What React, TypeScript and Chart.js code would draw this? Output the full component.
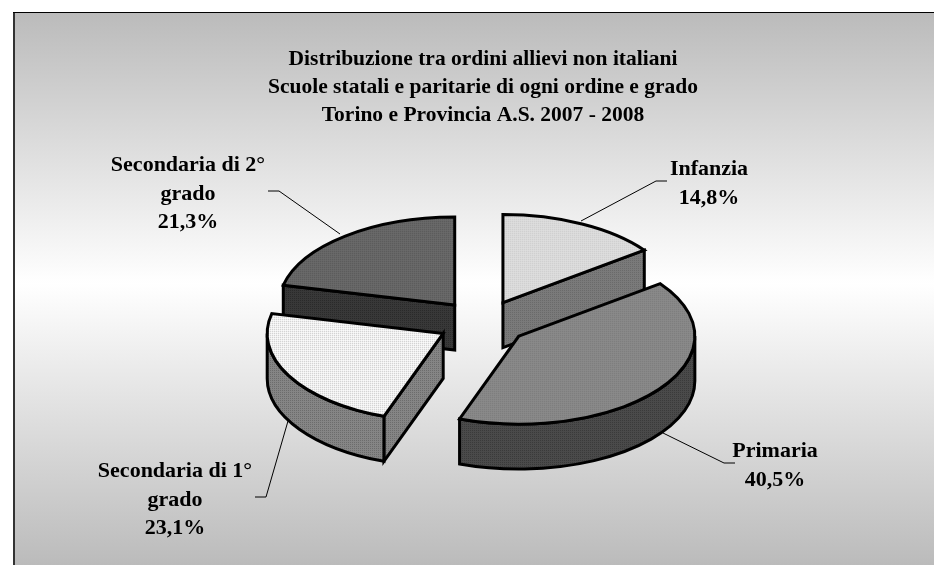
import React, { useEffect, useRef } from "react";
import { Chart, registerables } from "chart.js";

Chart.register(...registerables);

const categories = ["Infanzia", "Primaria", "Secondaria di 1° grado", "Secondaria di 2° grado"];
const shares = [14.8, 40.5, 23.1, 21.3];
const titleLines = [
  "Distribuzione tra ordini allievi non italiani",
  "Scuole statali e paritarie di ogni ordine e grado",
  "Torino e Provincia A.S. 2007 - 2008",
];
const labelLines = [["Infanzia"], ["Primaria"], ["Secondaria di 1°", "grado"], ["Secondaria di 2°", "grado"]];

// layout and styling, kept apart from the values
const WIDTH = 934;
const HEIGHT = 565;
const CENTER_X = 482.7;
const CENTER_Y = 322.7;
const RADIUS = 176;
const EXPLODE = 45;
const TILT = 0.5;
const DEPTH = 45;
const STROKE = 3;
const topStyles = [
  ["#e0e0e0", "#c4c4c4"],
  ["#8c8c8c", "#747474"],
  ["#ffffff", "#b4b4b4"],
  ["#6c6c6c", "#505050"],
];
const wallStyles = [
  ["#7a7a7a", "#6a6a6a"],
  ["#4a4a4a", "#3a3a3a"],
  ["#858585", "#6c6c6c"],
  ["#383838", "#2a2a2a"],
];
const labelLayout = [
  { x: 709, y: 175, line: [[581, 221], [656, 181], [667, 181]] },
  { x: 775, y: 457, line: [[663, 433], [724, 463], [735, 463]] },
  { x: 175, y: 477, line: [[288, 421], [266, 497], [255, 497]] },
  { x: 188, y: 171, line: [[340, 234], [279, 191], [268, 191]] },
];
const LABEL_LINE_HEIGHT = 28.5;

function makePattern(colors: string[], stretchY: number) {
  const tile = document.createElement("canvas");
  tile.width = 4;
  tile.height = 4;
  const c = tile.getContext("2d")!;
  c.fillStyle = colors[0];
  c.fillRect(0, 0, 4, 4);
  c.fillStyle = colors[1];
  c.fillRect(0, 0, 1, 1);
  c.fillRect(2, 2, 1, 1);
  c.fillRect(2, 0, 1, 1);
  c.fillRect(0, 2, 1, 1);
  const p = c.createPattern(tile, "repeat")!;
  p.setTransform(new DOMMatrix([1, 0, 0, stretchY, 0, 0]));
  return p;
}

const pie3d = {
  id: "pie3d",
  beforeDraw(chart: any) {
    const { ctx } = chart;
    const g = ctx.createLinearGradient(0, 13, 0, HEIGHT);
    g.addColorStop(0, "#bbbbbb");
    g.addColorStop(0.49, "#ffffff");
    g.addColorStop(1, "#bbbbbb");
    ctx.save();
    ctx.fillStyle = "#ffffff";
    ctx.fillRect(0, 0, WIDTH, HEIGHT);
    ctx.fillStyle = g;
    ctx.fillRect(14, 13, WIDTH - 14, HEIGHT - 13);
    ctx.fillStyle = "#333333";
    ctx.fillRect(13, 12, 2, HEIGHT - 12);
    ctx.fillStyle = "#000000";
    ctx.fillRect(13, 12, WIDTH - 13, 1);
    ctx.restore();
  },
  afterDatasetsUpdate(chart: any) {
    // explode each slice by moving its arc element along the bisector
    chart.getDatasetMeta(0).data.forEach((el: any) => {
      const mid = (el.startAngle + el.endAngle) / 2;
      el.x += Math.cos(mid) * EXPLODE;
      el.y += Math.sin(mid) * EXPLODE;
    });
  },
  beforeDatasetDraw(chart: any) {
    const { ctx, chartArea } = chart;
    const cx = (chartArea.left + chartArea.right) / 2;
    const cy = (chartArea.top + chartArea.bottom) / 2;
    const dx = CENTER_X - cx;
    const dy = CENTER_Y - cy * TILT;
    const wallFills = wallStyles.map((s) => makePattern(s, 1));
    const slices = chart.getDatasetMeta(0).data.map((el: any, i: number) => ({
      i,
      a: el.startAngle,
      b: el.endAngle,
      r: el.outerRadius,
      sx: el.x + dx,
      sy: el.y * TILT + dy,
    }));
    chart.$slices = slices;
    ctx.save();
    ctx.lineWidth = STROKE;
    ctx.lineJoin = "miter";
    ctx.strokeStyle = "#000000";
    [...slices].sort((p: any, q: any) => p.sy - q.sy).forEach((s: any) => {
      ctx.fillStyle = wallFills[s.i];
      const quad = (t: number) => {
        const px = s.sx + Math.cos(t) * s.r;
        const py = s.sy + Math.sin(t) * s.r * TILT;
        ctx.beginPath();
        ctx.moveTo(s.sx, s.sy);
        ctx.lineTo(px, py);
        ctx.lineTo(px, py + DEPTH);
        ctx.lineTo(s.sx, s.sy + DEPTH);
        ctx.closePath();
        ctx.fill();
        ctx.stroke();
      };
      if (Math.cos(s.a) < -1e-3) quad(s.a);
      if (Math.cos(s.b) > 1e-3) quad(s.b);
      for (const k of [0, 2 * Math.PI]) {
        const from = Math.max(s.a, k);
        const to = Math.min(s.b, k + Math.PI);
        if (to > from) {
          ctx.beginPath();
          ctx.ellipse(s.sx, s.sy, s.r, s.r * TILT, 0, from, to);
          ctx.ellipse(s.sx, s.sy + DEPTH, s.r, s.r * TILT, 0, to, from, true);
          ctx.closePath();
          ctx.fill();
          ctx.stroke();
        }
      }
    });
    ctx.restore();
    ctx.save();
    ctx.translate(dx, dy);
    ctx.scale(1, TILT);
  },
  afterDatasetDraw(chart: any) {
    const { ctx } = chart;
    ctx.restore();
    ctx.save();
    ctx.lineWidth = STROKE;
    ctx.lineJoin = "miter";
    ctx.strokeStyle = "#000000";
    chart.$slices.forEach((s: any) => {
      ctx.beginPath();
      ctx.moveTo(s.sx, s.sy);
      ctx.ellipse(s.sx, s.sy, s.r, s.r * TILT, 0, s.a, s.b);
      ctx.closePath();
      ctx.stroke();
    });
    ctx.restore();
  },
  afterDraw(chart: any) {
    const { ctx } = chart;
    ctx.save();
    ctx.strokeStyle = "#000000";
    ctx.lineWidth = 1;
    ctx.fillStyle = "#000000";
    ctx.font = 'bold 22px "Liberation Serif"';
    ctx.textAlign = "center";
    ctx.textBaseline = "alphabetic";
    labelLayout.forEach((l, i) => {
      ctx.beginPath();
      l.line.forEach(([x, y], j) => (j ? ctx.lineTo(x, y) : ctx.moveTo(x, y)));
      ctx.stroke();
      const lines = [...labelLines[i], shares[i].toFixed(1).replace(".", ",") + "%"];
      lines.forEach((t, j) => ctx.fillText(t, l.x, l.y + j * LABEL_LINE_HEIGHT));
    });
    ctx.restore();
  },
};

export default function App() {
  const ref = useRef<HTMLCanvasElement>(null);
  useEffect(() => {
    const chart = new Chart(ref.current!, {
      type: "pie",
      data: {
        labels: categories,
        datasets: [
          {
            data: shares,
            backgroundColor: topStyles.map((s) => makePattern(s, 1 / TILT)),
            borderWidth: 0,
            radius: RADIUS,
            clip: false,
          } as any,
        ],
      },
      options: {
        animation: false,
        responsive: false,
        events: [],
        layout: { padding: { left: 32 } },
        plugins: {
          legend: { display: false },
          tooltip: { enabled: false },
          title: {
            display: true,
            text: titleLines,
            color: "#000000",
            font: { family: "Liberation Serif", size: 21.5, weight: "bold", lineHeight: 28 / 21.5 },
            padding: { top: 45, bottom: 10 },
          },
        },
      },
      plugins: [pie3d],
    } as any);
    return () => chart.destroy();
  }, []);
  return (
    <canvas
      ref={ref}
      width={WIDTH}
      height={HEIGHT}
      style={{ position: "absolute", left: 0, top: 0, display: "block", width: WIDTH, height: HEIGHT }}
    />
  );
}
